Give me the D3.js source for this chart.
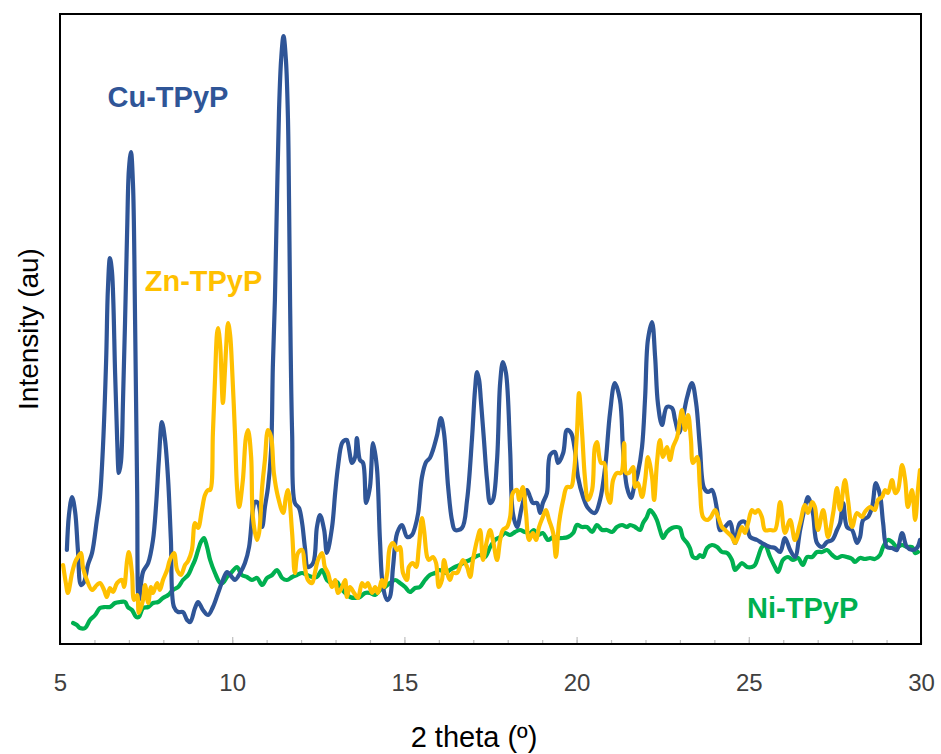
<!DOCTYPE html>
<html>
<head>
<meta charset="utf-8">
<script src="https://cdn.jsdelivr.net/npm/d3@7"></script>
<style>
  body { margin: 0; background: #ffffff; }
  svg { display: block; }
  text { font-family: "Liberation Sans", Arial, sans-serif; }
</style>
</head>
<body>
<svg id="chart" width="941" height="754"></svg>
<script>
// ---------------- data ----------------
const xTickValues = [5, 10, 15, 20, 25, 30];
const xMinorTickValues = d3.range(5, 31, 1);
const xTitle = "2 theta (º)";
const yTitle = "Intensity (au)";
const seriesNames = ["Cu-TPyP", "Zn-TPyP", "Ni-TPyP"];

const cuTheta = [5.20,5.26,5.35,5.44,5.52,5.61,5.70,5.81,5.93,6.07,6.16,6.25,6.34,6.39,6.45,6.51,6.60,6.66,6.71,6.77,6.83,6.89,6.95,7.00,7.06,7.12,7.18,7.24,7.29,7.41,7.56,7.70,7.79,7.87,7.96,8.05,8.14,8.22,8.31,8.43,8.57,8.69,8.78,8.92,9.01,9.15,9.30,9.44,9.59,9.73,9.85,9.99,10.08,10.23,10.37,10.49,10.60,10.66,10.75,10.87,10.95,11.04,11.13,11.18,11.24,11.30,11.36,11.42,11.49,11.56,11.62,11.65,11.68,11.74,11.82,11.94,12.03,12.11,12.20,12.35,12.46,12.55,12.67,12.75,12.90,12.99,13.07,13.19,13.28,13.33,13.48,13.57,13.62,13.71,13.80,13.89,14.00,14.09,14.20,14.29,14.38,14.50,14.58,14.67,14.79,14.93,15.08,15.22,15.31,15.40,15.51,15.63,15.74,15.83,15.95,16.06,16.15,16.27,16.38,16.47,16.67,16.82,16.96,17.05,17.11,17.17,17.22,17.31,17.40,17.49,17.57,17.69,17.78,17.86,17.95,18.07,18.15,18.27,18.41,18.56,18.65,18.73,18.85,18.94,19.02,19.14,19.23,19.37,19.46,19.61,19.72,19.84,19.95,20.04,20.19,20.33,20.53,20.68,20.83,20.97,21.11,21.26,21.35,21.46,21.58,21.67,21.78,21.90,21.99,22.07,22.19,22.28,22.36,22.48,22.62,22.77,22.86,22.97,23.09,23.21,23.35,23.47,23.58,23.70,23.82,23.93,24.08,24.16,24.31,24.45,24.60,24.74,24.89,25.04,25.24,25.38,25.62,25.76,25.91,26.05,26.20,26.34,26.49,26.63,26.72,26.86,26.98,27.13,27.27,27.42,27.56,27.65,27.74,27.85,28.00,28.14,28.23,28.32,28.46,28.58,28.69,28.81,28.90,29.01,29.16,29.30,29.45,29.59,29.74,29.88,29.97];
const cuIntensity = [94,129,147,132,94,59,62,79,91,124,147,199,284,354,386,372,271,204,171,182,244,324,414,474,492,459,324,154,44,72,81,104,139,184,222,204,164,104,37,32,32,24,22,36,42,34,29,37,51,64,72,67,64,71,81,97,134,142,141,117,137,157,194,277,344,444,534,584,608,584,524,444,344,211,141,136,121,97,77,81,117,129,114,91,117,151,177,201,204,204,181,187,206,184,181,141,157,201,177,104,57,44,47,77,111,119,107,109,117,131,167,182,186,194,209,226,211,157,124,114,116,144,204,254,272,264,244,204,164,141,144,184,261,282,271,194,131,117,137,154,147,141,141,131,141,151,189,192,181,191,214,211,194,167,147,136,131,144,177,231,261,244,194,157,146,157,171,197,247,304,322,287,241,219,237,236,224,211,227,247,261,241,197,156,152,154,134,114,117,122,101,121,122,107,104,101,97,96,92,106,94,87,114,137,147,131,101,97,102,104,114,121,141,117,114,101,107,124,127,137,161,149,121,97,96,94,111,97,94,96,104];

const znTheta = [5.09,5.17,5.23,5.35,5.44,5.52,5.61,5.67,5.78,5.93,6.07,6.16,6.28,6.36,6.45,6.54,6.66,6.80,6.86,6.95,7.00,7.09,7.15,7.24,7.29,7.41,7.47,7.56,7.64,7.70,7.82,7.90,7.99,8.11,8.19,8.31,8.40,8.51,8.63,8.72,8.83,8.92,9.01,9.12,9.21,9.30,9.36,9.44,9.50,9.56,9.59,9.65,9.68,9.73,9.79,9.82,9.88,9.94,9.99,10.08,10.14,10.20,10.31,10.40,10.46,10.55,10.60,10.72,10.78,10.87,10.95,11.04,11.13,11.21,11.33,11.48,11.56,11.62,11.74,11.82,11.91,12.03,12.11,12.20,12.32,12.40,12.49,12.61,12.69,12.78,12.90,12.99,13.07,13.19,13.28,13.33,13.42,13.54,13.65,13.77,13.86,13.94,14.06,14.15,14.23,14.35,14.41,14.50,14.58,14.67,14.79,14.87,14.96,15.08,15.13,15.25,15.34,15.42,15.51,15.57,15.66,15.71,15.83,15.92,16.00,16.09,16.15,16.24,16.32,16.41,16.53,16.61,16.70,16.82,16.91,16.99,17.11,17.20,17.28,17.40,17.49,17.57,17.69,17.78,17.86,17.98,18.07,18.15,18.27,18.33,18.44,18.53,18.62,18.73,18.82,18.91,19.02,19.11,19.20,19.32,19.40,19.49,19.61,19.72,19.84,19.92,20.01,20.07,20.16,20.24,20.33,20.45,20.53,20.59,20.71,20.80,20.88,20.97,21.06,21.17,21.29,21.38,21.44,21.52,21.64,21.70,21.78,21.90,21.99,22.07,22.19,22.25,22.34,22.42,22.51,22.62,22.71,22.80,22.92,23.00,23.06,23.15,23.24,23.32,23.38,23.50,23.58,23.67,23.79,23.90,24.02,24.11,24.22,24.31,24.40,24.51,24.60,24.69,24.80,24.89,24.98,25.09,25.18,25.27,25.38,25.47,25.62,25.76,25.91,26.05,26.20,26.34,26.49,26.63,26.72,26.84,26.92,27.01,27.16,27.30,27.45,27.56,27.65,27.79,27.88,28.00,28.14,28.29,28.37,28.52,28.66,28.75,28.87,28.96,29.04,29.16,29.25,29.33,29.45,29.54,29.62,29.74,29.83,29.91,29.97];
const znIntensity = [79,61,51,71,82,87,91,76,64,54,59,61,54,47,56,52,61,64,57,84,92,71,44,49,31,44,59,41,57,51,61,54,64,74,84,91,74,69,79,83,94,121,116,134,149,154,154,211,264,311,316,299,277,241,274,294,321,309,281,211,157,137,164,207,214,187,127,104,111,157,184,214,207,171,147,131,147,154,111,71,91,94,77,64,61,71,84,91,77,71,57,64,51,57,64,47,57,51,46,61,57,61,51,57,51,64,57,71,97,101,94,97,71,64,77,81,77,97,126,114,87,84,87,81,57,64,84,71,64,71,71,77,84,77,67,84,104,114,84,104,114,104,84,104,114,117,127,151,154,144,157,131,104,111,104,117,127,134,124,111,87,121,144,157,157,171,211,251,211,167,144,154,197,202,181,181,151,141,164,171,171,201,171,171,177,157,161,147,164,187,167,144,184,204,187,197,184,197,207,224,234,214,229,204,181,187,157,127,124,127,134,127,117,114,111,107,101,107,117,111,121,134,131,134,127,114,114,114,142,111,124,104,121,139,131,142,137,114,134,107,131,156,134,164,144,117,131,127,132,137,134,144,147,154,151,164,151,154,179,164,137,154,124,154,174];

const niTheta = [5.38,5.49,5.58,5.73,5.87,6.02,6.16,6.31,6.45,6.60,6.74,6.89,6.97,7.09,7.21,7.29,7.41,7.56,7.70,7.85,7.99,8.14,8.28,8.43,8.57,8.72,8.83,8.92,9.01,9.09,9.18,9.27,9.36,9.50,9.65,9.73,9.85,9.99,10.14,10.28,10.43,10.57,10.72,10.87,11.01,11.16,11.30,11.45,11.59,11.74,11.88,12.03,12.17,12.32,12.46,12.61,12.75,12.90,13.04,13.13,13.28,13.42,13.57,13.71,13.86,14.00,14.15,14.29,14.44,14.58,14.73,14.87,15.02,15.16,15.31,15.45,15.60,15.74,15.89,16.03,16.18,16.32,16.47,16.61,16.76,16.90,17.05,17.20,17.34,17.49,17.63,17.78,17.92,18.07,18.21,18.36,18.50,18.65,18.76,18.88,19.02,19.17,19.32,19.46,19.61,19.75,19.90,20.01,20.16,20.30,20.45,20.59,20.74,20.88,21.03,21.17,21.32,21.46,21.55,21.70,21.84,21.93,22.04,22.13,22.22,22.33,22.42,22.51,22.62,22.77,22.91,23.00,23.09,23.21,23.29,23.38,23.50,23.58,23.67,23.79,23.93,24.08,24.22,24.37,24.51,24.60,24.69,24.80,24.95,25.09,25.18,25.27,25.38,25.47,25.62,25.76,25.85,25.99,26.14,26.28,26.43,26.57,26.69,26.84,26.98,27.13,27.27,27.42,27.56,27.71,27.85,28.00,28.08,28.23,28.37,28.52,28.66,28.81,28.90,29.04,29.16,29.30,29.45,29.59,29.74,29.83,29.91];
const niIntensity = [21,19,16,16,24,29,36,37,37,41,42,42,37,34,27,27,36,37,41,42,46,49,54,57,64,69,77,84,94,102,106,97,84,71,61,61,67,72,77,69,67,64,66,59,66,69,74,66,64,67,69,71,69,67,67,74,64,61,62,57,51,47,46,47,51,51,49,54,57,61,64,61,57,52,56,57,64,69,71,74,71,74,77,79,82,84,87,89,87,97,104,107,111,109,112,114,112,111,114,109,111,104,107,106,106,107,111,119,117,117,112,119,114,114,112,117,119,117,119,117,114,121,127,134,131,124,114,106,112,116,117,116,106,101,96,87,86,89,87,96,99,97,92,91,84,74,77,81,77,77,79,87,97,99,87,77,72,84,87,84,86,79,87,87,92,92,94,89,86,88,87,85,82,86,85,86,85,89,97,104,102,97,99,97,97,91,92];

// ---------------- layout ----------------
const svg = d3.select("#chart");
const plot = { left: 60, right: 921, top: 14, bottom: 644 };
const colors = { cu: "#2F5597", zn: "#FFC000", ni: "#00B050" };

const x = d3.scaleLinear().domain([5, 30]).range([plot.left, plot.right]);
const y = d3.scaleLinear().domain([0, 630]).range([plot.bottom, plot.top]);

const zip = (xs, ys) => xs.map((v, i) => [v, ys[i]]);
const line = d3.line()
  .x(d => x(d[0]))
  .y(d => y(d[1]))
  .curve(d3.curveCatmullRom.alpha(0.5));

// minor ticks (inward)
svg.append("g")
  .attr("transform", `translate(0,${plot.bottom})`)
  .call(d3.axisBottom(x).tickValues(xMinorTickValues).tickSize(-4).tickFormat(""))
  .call(g => g.select(".domain").remove())
  .call(g => g.selectAll("line").attr("stroke", "#bfbfbf").attr("stroke-width", 1.2));

// major ticks + labels
svg.append("g")
  .attr("transform", `translate(0,${plot.bottom})`)
  .call(d3.axisBottom(x).tickValues(xTickValues).tickSize(-7).tickPadding(0).tickFormat(d3.format("d")))
  .call(g => g.select(".domain").remove())
  .call(g => g.selectAll("line").attr("stroke", "#bfbfbf").attr("stroke-width", 1.2))
  .call(g => g.selectAll("text")
      .attr("y", 47).attr("dy", 0)
      .attr("fill", "#404040")
      .style("font-size", "24px")
      .style("font-family", '"Liberation Sans", Arial, sans-serif'));

// series
const lineWidth = 4.2;
svg.append("path").datum(zip(niTheta, niIntensity))
  .attr("d", line).attr("fill", "none").attr("stroke", colors.ni)
  .attr("stroke-width", lineWidth).attr("stroke-linejoin", "round").attr("stroke-linecap", "round");
svg.append("path").datum(zip(cuTheta, cuIntensity))
  .attr("d", line).attr("fill", "none").attr("stroke", colors.cu)
  .attr("stroke-width", lineWidth).attr("stroke-linejoin", "round").attr("stroke-linecap", "round");
svg.append("path").datum(zip(znTheta, znIntensity))
  .attr("d", line).attr("fill", "none").attr("stroke", colors.zn)
  .attr("stroke-width", lineWidth).attr("stroke-linejoin", "round").attr("stroke-linecap", "round");

// frame
svg.append("rect")
  .attr("x", plot.left).attr("y", plot.top)
  .attr("width", plot.right - plot.left).attr("height", plot.bottom - plot.top)
  .attr("fill", "none").attr("stroke", "#000").attr("stroke-width", 2);

// series labels
const labelData = [
  { name: seriesNames[0], color: colors.cu, theta: 6.38, val: 537 },
  { name: seriesNames[1], color: colors.zn, theta: 7.46, val: 353 },
  { name: seriesNames[2], color: colors.ni, theta: 24.95, val: 26 }
];
svg.selectAll("text.series").data(labelData).join("text")
  .attr("class", "series")
  .attr("x", d => x(d.theta)).attr("y", d => y(d.val))
  .attr("fill", d => d.color)
  .style("font-size", "29px").style("font-weight", "bold")
  .text(d => d.name);

// axis titles
svg.append("text")
  .attr("x", 474).attr("y", 747)
  .attr("text-anchor", "middle").attr("fill", "#000")
  .style("font-size", "29px")
  .text(xTitle);

svg.append("text")
  .attr("transform", `translate(38,${(plot.top + plot.bottom) / 2}) rotate(-90)`)
  .attr("text-anchor", "middle").attr("fill", "#000")
  .style("font-size", "28px")
  .text(yTitle);
</script>
</body>
</html>
